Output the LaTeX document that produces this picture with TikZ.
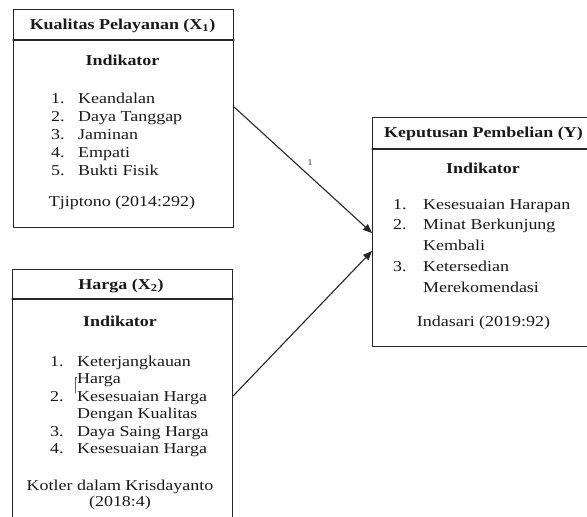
\documentclass[tikz,border=0pt]{standalone}
\usepackage{fontspec}
\setmainfont{Liberation Serif}[FakeStretch=1.19]
\usetikzlibrary{arrows}

\begin{document}
\begin{tikzpicture}[x=1pt,y=-1pt,line cap=round,line join=round,>=triangle 45,
    box/.style={draw=black!85,line width=1.1pt,inner sep=0pt,anchor=north west},
    txt/.style={inner sep=0pt,anchor=base,text=black!90,font=\fontsize{15.1}{18}\selectfont},
    ttl/.style={txt,font=\fontsize{15.1}{18}\selectfont\bfseries},
    lst/.style={txt,anchor=base west}]
  \useasboundingbox (0,0) rectangle (587,517);
  \clip (0,0) rectangle (587,517);
  % boxes
  \node[box,minimum width=220pt,minimum height=218pt] (kual) at (13,9) {};
  \node[box,minimum width=220pt,minimum height=262pt] (harga) at (12,269) {};
  \node[box,minimum width=226pt,minimum height=229pt] (kep) at (372,117) {};
  \draw [line width=1.1pt,black!85] ([yshift=-31pt]kual.north west)-- ([yshift=-31pt]kual.north east);
  \draw [line width=1.1pt,black!85] ([yshift=-30pt]harga.north west)-- ([yshift=-30pt]harga.north east);
  \draw [line width=1.1pt,black!85] ([yshift=-32pt]kep.north west)-- ([yshift=-32pt]kep.north east);
  % Kualitas Pelayanan
  \node[ttl] (kualT) at (122.5,29) {Kualitas Pelayanan (X\textsubscript{1})};
  \node[ttl] (kualI) at (122.5,65) {Indikator};
  \node[lst] (kualL) at (51,103) {\begin{tabular}[t]{@{}l@{}}
      \makebox[27pt][l]{1.}Keandalan\\
      \makebox[27pt][l]{2.}Daya Tanggap\\
      \makebox[27pt][l]{3.}Jaminan\\
      \makebox[27pt][l]{4.}Empati\\
      \makebox[27pt][l]{5.}Bukti Fisik
    \end{tabular}};
  \node[txt] (kualS) at (122,206) {Tjiptono (2014:292)};
  % Harga
  \node[ttl] (hargaT) at (121,289) {Harga (X\textsubscript{2})};
  \node[ttl] (hargaI) at (120,326) {Indikator};
  \node[lst,font=\fontsize{15.1}{17.5}\selectfont] (hargaL) at (50,366) {\begin{tabular}[t]{@{}l@{}}
      \makebox[27pt][l]{1.}Keterjangkauan\\
      \makebox[27pt][l]{}Harga\\
      \makebox[27pt][l]{2.}Kesesuaian Harga\\
      \makebox[27pt][l]{}Dengan Kualitas\\
      \makebox[27pt][l]{3.}Daya Saing Harga\\
      \makebox[27pt][l]{4.}Kesesuaian Harga
    \end{tabular}};
  \node[txt] (hargaS) at (120,490) {Kotler dalam Krisdayanto};
  \node[txt] (hargaY) at (120,506) {(2018:4)};
  \draw [black!60,line width=0.5pt] (77,377)-- (75,377)-- (75,393);
  % Keputusan Pembelian
  \node[ttl] (kepT) at (483.5,137) {Keputusan Pembelian (Y)};
  \node[ttl] (kepI) at (483,173) {Indikator};
  \node[lst,font=\fontsize{15.1}{20.8}\selectfont] (kepL) at (393,209) {\begin{tabular}[t]{@{}l@{}}
      \makebox[30pt][l]{1.}Kesesuaian Harapan\\
      \makebox[30pt][l]{2.}Minat Berkunjung\\
      \makebox[30pt][l]{}Kembali\\
      \makebox[30pt][l]{3.}Ketersedian\\
      \makebox[30pt][l]{}Merekomendasi
    \end{tabular}};
  \node[txt] (kepS) at (483.5,326) {Indasari (2019:92)};
  % arrows
  \draw [->,line width=1.1pt,black!85] ([yshift=-98pt]kual.north east)-- ([yshift=-116pt]kep.north west);
  \draw [->,line width=1.1pt,black!85] ([yshift=-127pt]harga.north east)-- ([yshift=-134pt]kep.north west);
  \node[inner sep=0pt,text=black!75,font=\fontsize{9}{10}\selectfont] (one) at (310,163) {1};
\end{tikzpicture}
\end{document}
